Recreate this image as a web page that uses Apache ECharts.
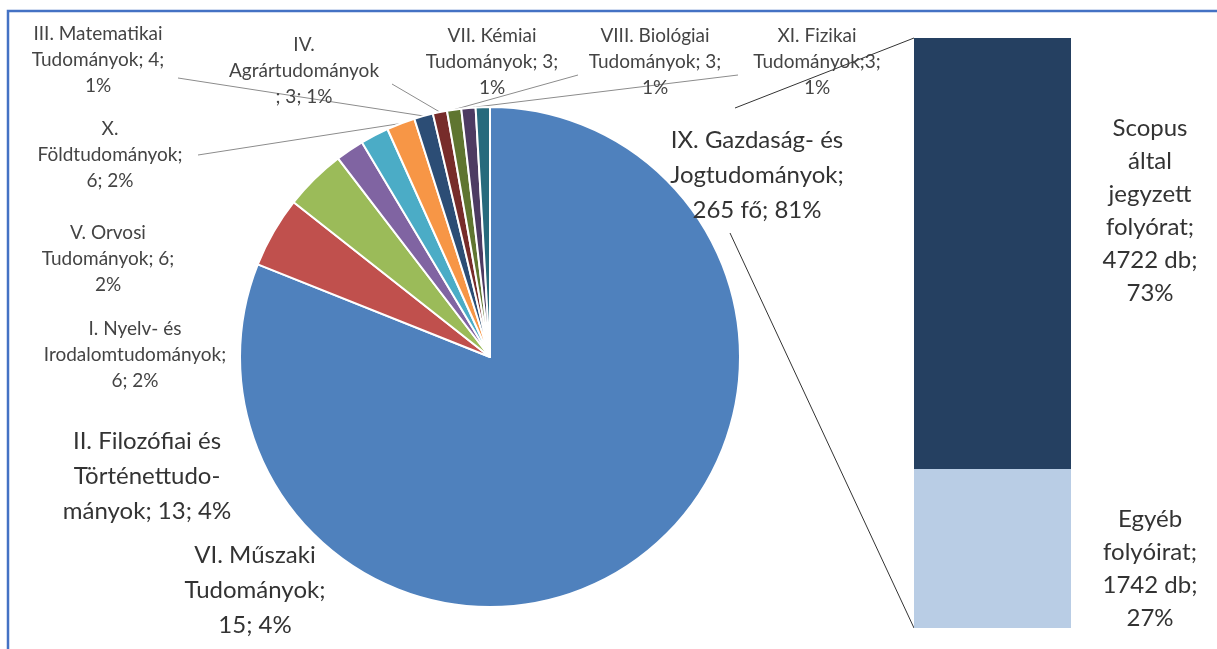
<!DOCTYPE html>
<html>
<head>
<meta charset="utf-8">
<script src="https://cdn.jsdelivr.net/npm/echarts@6/dist/echarts.min.js"></script>
<style>
html, body { margin: 0; padding: 0; background: #fff; }
#main { width: 1217px; height: 649px; }
</style>
</head>
<body>
<div id="main"></div>
<script>
// pie: tudományterületek
var names = [
    'IX. Gazdaság- és\nJogtudományok',
    'VI. Műszaki\nTudományok',
    'II. Filozófiai és\nTörténettudo-\nmányok',
    'I. Nyelv- és\nIrodalomtudományok',
    'V. Orvosi\nTudományok',
    'X.\nFöldtudományok',
    'III. Matematikai\nTudományok',
    'IV.\nAgrártudományok',
    'VII. Kémiai\nTudományok',
    'VIII. Biológiai\nTudományok',
    'XI. Fizikai\nTudományok'
];
var values = [265, 15, 13, 6, 6, 6, 4, 3, 3, 3, 3];
var percents = [81, 4, 4, 2, 2, 2, 1, 1, 1, 1, 1];
var labelFmt = [
    '{n};\n{v} fő; {p}%',
    '{n};\n{v}; {p}%',
    '{n}; {v}; {p}%',
    '{n};\n{v}; {p}%',
    '{n}; {v};\n{p}%',
    '{n};\n{v}; {p}%',
    '{n}; {v};\n{p}%',
    '{n}\n; {v}; {p}%',
    '{n}; {v};\n{p}%',
    '{n}; {v};\n{p}%',
    '{n};{v};\n{p}%'
];

// bar: folyóiratok
var barNames = ['Egyéb\nfolyóirat', 'Scopus\náltal\njegyzett\nfolyórat'];
var barValues = [1742, 4722];
var barPercents = [27, 73];

var colors = ['#4F81BD', '#C0504D', '#9BBB59', '#8064A2', '#4BACC6', '#F79646',
    '#2C4D75', '#772C2A', '#5F7530', '#4D3B62', '#276A7C'];
var barColors = ['#B9CDE5', '#254061'];

// label placement (centre of the text block) and leader line ends
var labelPos = [[757, 175], [255, 590], [147, 476], [135, 355], [108, 259], [110, 155],
    [98, 60], [304, 71], [492, 62], [655, 62], [817, 62]];
var leaderEnd = [null, null, null, null, null, [198, 155], [178, 78], [392, 84],
    [578, 75], [738, 75], null];
var bigLabel = [true, true, true];

var pieCenter = [490, 357];
var barGrid = {left: 914, top: 38, width: 157, height: 590};

var myChart = echarts.init(document.getElementById('main'));

var pieData = names.map(function (n, i) {
    return {
        name: n,
        value: values[i],
        itemStyle: {color: colors[i]},
        label: bigLabel[i] ? {fontSize: 24, lineHeight: 35, color: '#333'} : {},
        labelLine: {show: !!leaderEnd[i]}
    };
});

var barTotal = barValues[0] + barValues[1];
var barPos = [[236, '63%'], [236, '40%']];

var option = {
    animation: false,
    series: [
        {
            name: 'Tudományterület',
            type: 'pie',
            center: pieCenter,
            radius: 250,
            startAngle: 90,
            clockwise: true,
            avoidLabelOverlap: false,
            itemStyle: {borderColor: '#fff', borderWidth: 2},
            label: {
                show: true,
                fontFamily: 'Lato',
                fontSize: 19,
                lineHeight: 26,
                color: '#444',
                align: 'center',
                formatter: function (p) {
                    var i = p.dataIndex;
                    return labelFmt[i].replace('{n}', names[i]).replace('{v}', values[i]).replace('{p}', percents[i]);
                }
            },
            labelLine: {lineStyle: {color: '#8c8c8c', width: 1}},
            labelLayout: function (p) {
                var pos = labelPos[p.dataIndex];
                var out = {x: pos[0], y: pos[1], align: 'center', verticalAlign: 'middle'};
                var end = leaderEnd[p.dataIndex];
                if (end && p.labelLinePoints) {
                    out.labelLinePoints = [p.labelLinePoints[0], end, end];
                }
                return out;
            },
            data: pieData
        }
    ].concat(barValues.map(function (v, i) {
        return {
            name: barNames[i],
            type: 'bar',
            stack: 'folyoirat',
            barWidth: '100%',
            itemStyle: {color: barColors[i]},
            label: {
                show: true,
                position: barPos[i],
                align: 'center',
                verticalAlign: 'middle',
                fontFamily: 'Lato',
                fontSize: 24,
                lineHeight: 33,
                color: '#333',
                formatter: barNames[i] + ';\n' + barValues[i] + ' db;\n' + barPercents[i] + '%'
            },
            data: [v]
        };
    })),
    grid: barGrid,
    xAxis: {type: 'category', data: ['folyóirat'], show: false},
    yAxis: {type: 'value', min: 0, max: barTotal, show: false}
};

myChart.setOption(option);

// összekötő vonalak a kördiagram és az oszlop között + keret
var yTop = myChart.convertToPixel({yAxisIndex: 0}, barTotal);
var yBottom = myChart.convertToPixel({yAxisIndex: 0}, 0);
myChart.setOption({
    graphic: [
        {
            type: 'rect',
            shape: {x: 8, y: 11, width: 1240, height: 700},
            style: {fill: 'none', stroke: '#4472C4', lineWidth: 2.5},
            silent: true
        },
        {
            type: 'line',
            shape: {x1: pieCenter[0] + 245, y1: pieCenter[1] - 249, x2: barGrid.left, y2: yTop},
            style: {stroke: '#333', lineWidth: 1}
        },
        {
            type: 'line',
            shape: {x1: pieCenter[0] + 240, y1: pieCenter[1] - 124, x2: barGrid.left, y2: yBottom},
            style: {stroke: '#333', lineWidth: 1}
        }
    ]
});
</script>
</body>
</html>
